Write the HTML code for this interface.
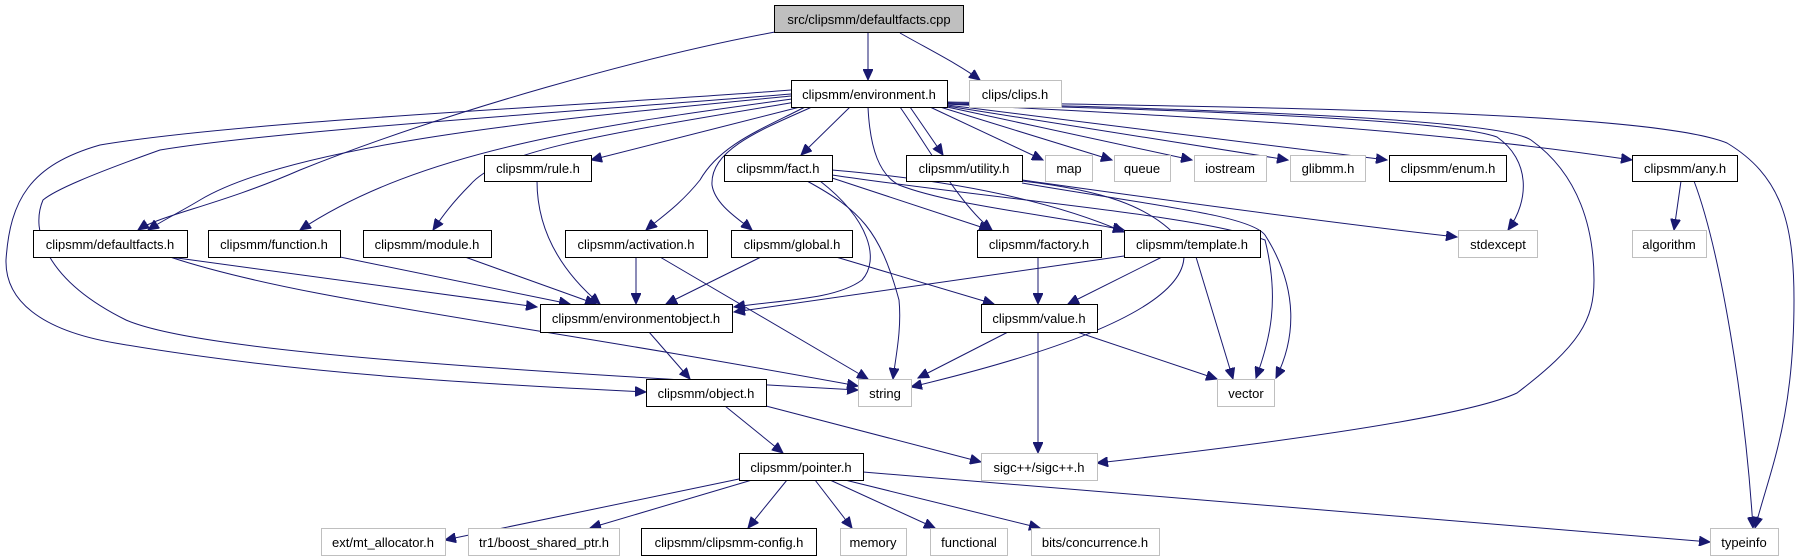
<!DOCTYPE html>
<html><head><meta charset="utf-8"><style>
html,body{margin:0;padding:0;background:#fff;}
svg{display:block;}
text{font-family:"Liberation Sans",Arial,sans-serif;font-size:13px;fill:#000;}
.e{fill:none;stroke:#191970;stroke-width:1;}
.b{fill:#fff;stroke:#000;stroke-width:1;}
.g{fill:#fff;stroke:#bfbfbf;stroke-width:1;}
</style></head><body>
<svg width="1799" height="560" viewBox="0 0 1799 560" xmlns="http://www.w3.org/2000/svg">
<defs><marker id="a" markerUnits="userSpaceOnUse" markerWidth="12" markerHeight="10" refX="11" refY="5" orient="auto"><path d="M0,0 L11,5 L0,10 Z" fill="#191970" stroke="#191970"/></marker></defs>
<g marker-end="url(#a)">
<path class="e" d="M868,32 L868,80"/>
<path class="e" d="M900,33 C930,50 960,65 980,80"/>
<path class="e" d="M775,32 C650,55 450,110 300,170 C220,205 160,215 138,230"/>
<path class="e" d="M791,96 C600,115 300,140 200,200 C180,212 160,222 148,230"/>
<path class="e" d="M792,99 C600,125 420,150 300,230"/>
<path class="e" d="M796,102 C600,135 500,150 470,185 C450,205 440,220 433,230"/>
<path class="e" d="M800,107 L591,160"/>
<path class="e" d="M805,107 C760,130 720,145 700,180 C680,205 660,218 646,230"/>
<path class="e" d="M812,107 C760,130 710,150 712,185 C715,205 740,220 752,230"/>
<path class="e" d="M850,107 L801,155"/>
<path class="e" d="M791,90 C600,105 250,120 100,145 C30,165 10,200 6,260 C5,300 40,330 115,343 C300,375 500,385 646,392"/>
<path class="e" d="M791,94 C600,110 280,130 160,150 C90,175 55,190 43,200 C30,230 45,280 126,320 C200,352 500,370 858,390"/>
<path class="e" d="M868,107 C870,150 880,175 899,185 C950,205 1050,215 1124,230"/>
<path class="e" d="M900,107 C930,150 960,205 992,230"/>
<path class="e" d="M910,107 L943,155"/>
<path class="e" d="M930,107 L1043,160"/>
<path class="e" d="M940,107 L1112,160"/>
<path class="e" d="M947,107 L1192,160"/>
<path class="e" d="M947,106 L1288,160"/>
<path class="e" d="M947,105 L1387,160"/>
<path class="e" d="M947,104 C1150,115 1400,125 1632,160"/>
<path class="e" d="M947,104 C1200,110 1450,120 1497,137 C1530,160 1530,200 1508,230"/>
<path class="e" d="M947,103 C1250,110 1500,120 1531,140 C1580,175 1594,230 1594,280 C1594,320 1580,345 1517,393 C1470,415 1300,440 1097,463"/>
<path class="e" d="M947,102 C1300,108 1650,112 1727,143 C1780,175 1794,220 1794,300 C1794,420 1770,470 1755,528"/>
<path class="e" d="M832,170 C950,180 1050,200 1124,232"/>
<path class="e" d="M826,176 L990,230"/>
<path class="e" d="M807,181 C860,210 880,230 899,300 C902,330 895,360 893,379"/>
<path class="e" d="M820,181 C870,220 880,260 862,280 C835,300 780,300 734,307"/>
<path class="e" d="M832,175 C1000,200 1200,215 1265,240 C1280,300 1270,340 1256,378"/>
<path class="e" d="M1022,180 C1200,205 1350,225 1457,237"/>
<path class="e" d="M1022,183 C1150,205 1250,215 1265,235 C1300,290 1295,340 1276,378"/>
<path class="e" d="M1022,181 C1100,190 1150,205 1180,240 C1200,280 1150,330 911,387"/>
<path class="e" d="M537,181 C537,230 560,270 600,304"/>
<path class="e" d="M170,257 L537,307"/>
<path class="e" d="M340,257 L570,304"/>
<path class="e" d="M465,257 L596,304"/>
<path class="e" d="M636,257 L636,304"/>
<path class="e" d="M660,257 L868,379"/>
<path class="e" d="M761,257 L666,304"/>
<path class="e" d="M836,257 L994,304"/>
<path class="e" d="M1124,256 L734,312"/>
<path class="e" d="M1162,257 L1068,304"/>
<path class="e" d="M1196,257 L1233,379"/>
<path class="e" d="M1038,257 L1038,304"/>
<path class="e" d="M1008,332 L918,378"/>
<path class="e" d="M1077,332 L1217,379"/>
<path class="e" d="M1038,332 L1038,453"/>
<path class="e" d="M170,257 C300,300 500,320 858,386"/>
<path class="e" d="M649,332 L690,379"/>
<path class="e" d="M725,406 L783,453"/>
<path class="e" d="M766,406 L981,462"/>
<path class="e" d="M739,479 L445,540"/>
<path class="e" d="M752,480 L590,528"/>
<path class="e" d="M787,480 L748,528"/>
<path class="e" d="M815,480 L852,528"/>
<path class="e" d="M830,480 L935,528"/>
<path class="e" d="M845,480 L1040,528"/>
<path class="e" d="M863,472 L1710,542"/>
<path class="e" d="M1681,181 L1674,230"/>
<path class="e" d="M1694,181 C1720,250 1745,400 1753,528"/>
</g>
<g>
<rect x="774.5" y="5.5" width="189" height="27" fill="#bfbfbf" stroke="#000"/><text x="869" y="24" text-anchor="middle">src/clipsmm/defaultfacts.cpp</text>
<rect class="b" x="791.5" y="80.5" width="156" height="27"/><text x="869" y="99" text-anchor="middle">clipsmm/environment.h</text>
<rect class="g" x="969.5" y="80.5" width="92" height="27"/><text x="1015" y="99" text-anchor="middle">clips/clips.h</text>
<rect class="b" x="484.5" y="155.5" width="107" height="26"/><text x="538" y="173" text-anchor="middle">clipsmm/rule.h</text>
<rect class="b" x="724.5" y="155.5" width="108" height="26"/><text x="778" y="173" text-anchor="middle">clipsmm/fact.h</text>
<rect class="b" x="906.5" y="155.5" width="116" height="26"/><text x="964" y="173" text-anchor="middle">clipsmm/utility.h</text>
<rect class="g" x="1045.5" y="155.5" width="47" height="26"/><text x="1069" y="173" text-anchor="middle">map</text>
<rect class="g" x="1114.5" y="155.5" width="56" height="26"/><text x="1142" y="173" text-anchor="middle">queue</text>
<rect class="g" x="1194.5" y="155.5" width="72" height="26"/><text x="1230" y="173" text-anchor="middle">iostream</text>
<rect class="g" x="1290.5" y="155.5" width="75" height="26"/><text x="1328" y="173" text-anchor="middle">glibmm.h</text>
<rect class="b" x="1389.5" y="155.5" width="117" height="26"/><text x="1448" y="173" text-anchor="middle">clipsmm/enum.h</text>
<rect class="b" x="1632.5" y="155.5" width="105" height="26"/><text x="1685" y="173" text-anchor="middle">clipsmm/any.h</text>
<rect class="b" x="33.5" y="230.5" width="154" height="27"/><text x="110" y="249" text-anchor="middle">clipsmm/defaultfacts.h</text>
<rect class="b" x="208.5" y="230.5" width="132" height="27"/><text x="274" y="249" text-anchor="middle">clipsmm/function.h</text>
<rect class="b" x="363.5" y="230.5" width="128" height="27"/><text x="427" y="249" text-anchor="middle">clipsmm/module.h</text>
<rect class="b" x="565.5" y="230.5" width="142" height="27"/><text x="636" y="249" text-anchor="middle">clipsmm/activation.h</text>
<rect class="b" x="731.5" y="230.5" width="121" height="27"/><text x="792" y="249" text-anchor="middle">clipsmm/global.h</text>
<rect class="b" x="977.5" y="230.5" width="124" height="27"/><text x="1039" y="249" text-anchor="middle">clipsmm/factory.h</text>
<rect class="b" x="1124.5" y="230.5" width="136" height="27"/><text x="1192" y="249" text-anchor="middle">clipsmm/template.h</text>
<rect class="g" x="1458.5" y="230.5" width="79" height="27"/><text x="1498" y="249" text-anchor="middle">stdexcept</text>
<rect class="g" x="1632.5" y="230.5" width="74" height="27"/><text x="1669" y="249" text-anchor="middle">algorithm</text>
<rect class="b" x="540.5" y="304.5" width="192" height="28"/><text x="636" y="323" text-anchor="middle">clipsmm/environmentobject.h</text>
<rect class="b" x="981.5" y="304.5" width="116" height="28"/><text x="1039" y="323" text-anchor="middle">clipsmm/value.h</text>
<rect class="b" x="646.5" y="379.5" width="120" height="27"/><text x="706" y="398" text-anchor="middle">clipsmm/object.h</text>
<rect class="g" x="858.5" y="379.5" width="53" height="27"/><text x="885" y="398" text-anchor="middle">string</text>
<rect class="g" x="1217.5" y="379.5" width="57" height="27"/><text x="1246" y="398" text-anchor="middle">vector</text>
<rect class="b" x="739.5" y="453.5" width="124" height="27"/><text x="801" y="472" text-anchor="middle">clipsmm/pointer.h</text>
<rect class="g" x="981.5" y="453.5" width="116" height="27"/><text x="1039" y="472" text-anchor="middle">sigc++/sigc++.h</text>
<rect class="g" x="321.5" y="528.5" width="124" height="27"/><text x="383" y="547" text-anchor="middle">ext/mt_allocator.h</text>
<rect class="g" x="468.5" y="528.5" width="151" height="27"/><text x="544" y="547" text-anchor="middle">tr1/boost_shared_ptr.h</text>
<rect class="b" x="641.5" y="528.5" width="175" height="27"/><text x="729" y="547" text-anchor="middle">clipsmm/clipsmm-config.h</text>
<rect class="g" x="840.5" y="528.5" width="66" height="27"/><text x="873" y="547" text-anchor="middle">memory</text>
<rect class="g" x="930.5" y="528.5" width="77" height="27"/><text x="969" y="547" text-anchor="middle">functional</text>
<rect class="g" x="1031.5" y="528.5" width="128" height="27"/><text x="1095" y="547" text-anchor="middle">bits/concurrence.h</text>
<rect class="g" x="1710.5" y="528.5" width="68" height="27"/><text x="1744" y="547" text-anchor="middle">typeinfo</text>
</g>
</svg>
</body></html>
